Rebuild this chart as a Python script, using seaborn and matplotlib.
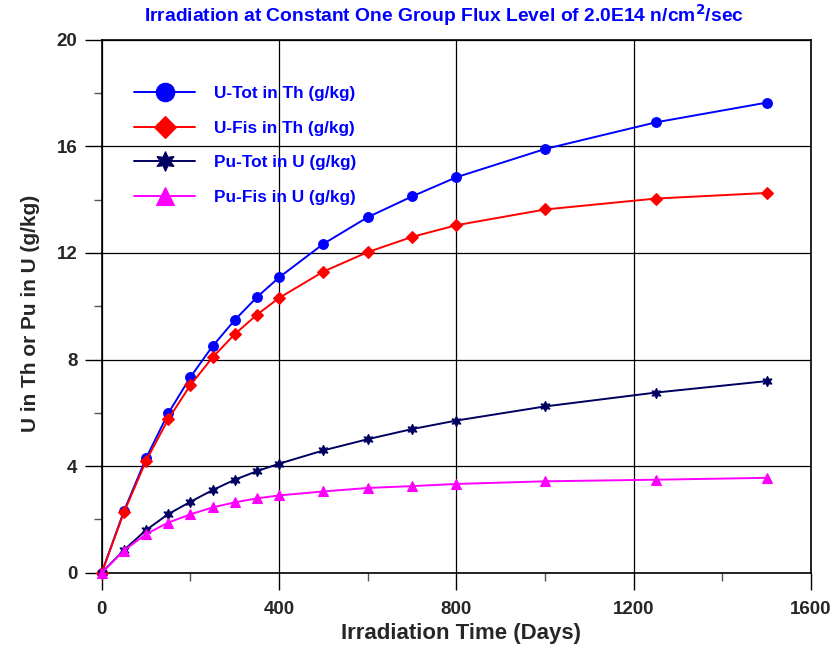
import matplotlib
matplotlib.use("Agg")
import matplotlib.pyplot as plt
from matplotlib.ticker import MultipleLocator
import numpy as np
import pandas as pd
import seaborn as sns

# Irradiation time (days)
days = [0, 50, 100, 150, 200, 250, 300, 350, 400, 500, 600, 700, 800, 1000, 1250, 1500]

# Concentrations (g/kg)
u_tot_th = [0.0, 2.31, 4.30, 5.98, 7.34, 8.50, 9.48, 10.34, 11.08, 12.34, 13.34, 14.12, 14.84, 15.90, 16.90, 17.64]
u_fis_th = [0.0, 2.26, 4.20, 5.76, 7.04, 8.08, 8.95, 9.68, 10.31, 11.30, 12.03, 12.60, 13.04, 13.63, 14.04, 14.25]
pu_tot_u = [0.0, 0.85, 1.60, 2.20, 2.66, 3.10, 3.49, 3.81, 4.09, 4.59, 5.01, 5.39, 5.71, 6.24, 6.76, 7.19]
pu_fis_u = [0.0, 0.83, 1.45, 1.88, 2.19, 2.45, 2.64, 2.79, 2.90, 3.05, 3.18, 3.25, 3.33, 3.43, 3.49, 3.56]

series_names = ["U-Tot in Th (g/kg)", "U-Fis in Th (g/kg)", "Pu-Tot in U (g/kg)", "Pu-Fis in U (g/kg)"]
series_values = [u_tot_th, u_fis_th, pu_tot_u, pu_fis_u]
colors = ["#0000ff", "#ff0000", "#000060", "#ff00ff"]
markers = ["o", "D", (6, 1, 0), "^"]
msizes = [7, 6, 7.5, 6.5]

x_ticks = [0, 400, 800, 1200, 1600]
y_ticks = [0, 4, 8, 12, 16, 20]

df = pd.DataFrame({
    "days": np.tile(days, len(series_names)),
    "value": np.concatenate(series_values),
    "series": np.repeat(series_names, len(days)),
})

sns.set_theme(style="white")
plt.rcParams["font.family"] = ["Liberation Sans", "DejaVu Sans"]
plt.rcParams["font.weight"] = "bold"
plt.rcParams["mathtext.default"] = "bf"

fig = plt.figure(figsize=(8.36, 6.5), dpi=100)
ax = fig.add_axes([0.1217, 0.1189, 0.8485, 0.82])

for name, col, mk, ms in zip(series_names, colors, markers, msizes):
    sub = df[df["series"] == name]
    sns.lineplot(data=sub, x="days", y="value", ax=ax, color=col, marker=mk,
                 markersize=ms, markeredgecolor=col, markeredgewidth=0.8,
                 linewidth=1.4, label=name, zorder=3, clip_on=False)

ax.set_xlim(0, 1600)
ax.set_ylim(0, 20)
ax.set_xticks(x_ticks)
ax.set_yticks(y_ticks)
ax.xaxis.set_minor_locator(MultipleLocator(200))
ax.yaxis.set_minor_locator(MultipleLocator(2))
ax.grid(True, which="major", color="black", linewidth=0.9)
ax.set_axisbelow(True)
for sp in ax.spines.values():
    sp.set_color("black")
    sp.set_linewidth(1.2)
ax.tick_params(axis="both", which="major", direction="out", length=12.5, width=1,
               color="black", labelsize=13.5, bottom=True, left=True)
ax.tick_params(axis="y", which="major", pad=5)
ax.tick_params(axis="x", which="major", pad=8)
ax.tick_params(axis="both", which="minor", direction="out", length=6, width=1,
               color="#555555", bottom=True, left=True)
for lbl in ax.get_xticklabels() + ax.get_yticklabels():
    lbl.set_fontweight("bold")

ax.set_xlabel("Irradiation Time (Days)", fontsize=16, fontweight="bold")
ax.set_ylabel("U in Th or Pu in U (g/kg)", fontsize=15, fontweight="bold")
ax.xaxis.set_label_coords(0.5066, -0.094)
ax.yaxis.set_label_coords(-0.087, 0.487)

fig.text(0.5305, 0.977,
         "Irradiation at Constant One Group Flux Level of 2.0E14 n/cm$^\\mathbf{2}$/sec",
         fontsize=13.9, fontweight="bold", color="#0000ff", ha="center", va="center")

leg = ax.legend(loc="upper left", bbox_to_anchor=(0.036, 0.926), frameon=False,
                fontsize=12.4, markerscale=1.9, handlelength=3.55, handletextpad=1.1,
                labelspacing=1.14, borderaxespad=0)
for t in leg.get_texts():
    t.set_color("#0000ff")
    t.set_fontweight("bold")

fig.savefig("out.png", dpi=100)
